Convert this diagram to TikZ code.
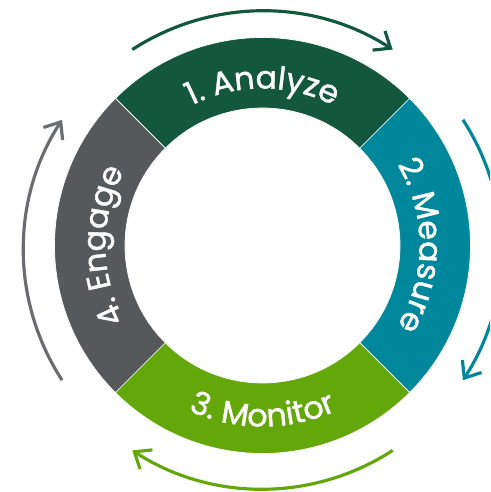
\documentclass[tikz,border=0pt]{standalone}
\usepackage{fontspec}
\newfontfamily\stagefont{Poppins}[FakeBold=1.3]
\usetikzlibrary{arrows.meta,decorations.text}

\definecolor{analyze}{HTML}{12573E}
\definecolor{measure}{HTML}{00879B}
\definecolor{monitor}{HTML}{64A70B}
\definecolor{engage}{HTML}{55595C}
\definecolor{engagearrow}{HTML}{6B6C6F}

\begin{document}
\begin{tikzpicture}[
  x=0.02cm,y=0.02cm,
  seg/.style={fill=#1,draw=white,line width=0.4pt},
  cyc/.style={draw=#1,line width=1.8pt,-{Straight Barb[length=8pt,width=13pt]}},
  stage/.style={decorate,decoration={text along path,text align=center,text color=white,
    text={|\stagefont\fontsize{18}{20}\selectfont|#1}}}
]
\def\Ro{208}
\def\Ri{137.5}
\useasboundingbox (-262.5,-246.5) rectangle (227.5,245.5);
\clip (-262.5,-246.5) rectangle (227.5,245.5);

\foreach \a/\c in {90/analyze,0/measure,-90/monitor,180/engage}{
  \path[seg=\c] (\a-45:\Ro) arc[start angle=\a-45,end angle=\a+45,radius=\Ro]
    -- (\a+45:\Ri) arc[start angle=\a+45,end angle=\a-45,radius=\Ri] -- cycle;
}

\foreach \a/\c in {90/analyze,0/measure,-90/monitor,180/engagearrow}{
  \draw[cyc=\c,shift={(0,-4.5)}] (\a+33:239) arc[start angle=\a+33,end angle=\a-33,radius=239];
}

\path[stage={1. Analyze}] (140:157) arc[start angle=140,end angle=40,radius=157];
\path[stage={2. Measure}] (50:157) arc[start angle=50,end angle=-50,radius=157];
\path[stage={3. Monitor}] (220:181) arc[start angle=220,end angle=320,radius=181];
\path[stage={4. Engage}] (230:157) arc[start angle=230,end angle=130,radius=157];
\end{tikzpicture}
\end{document}
